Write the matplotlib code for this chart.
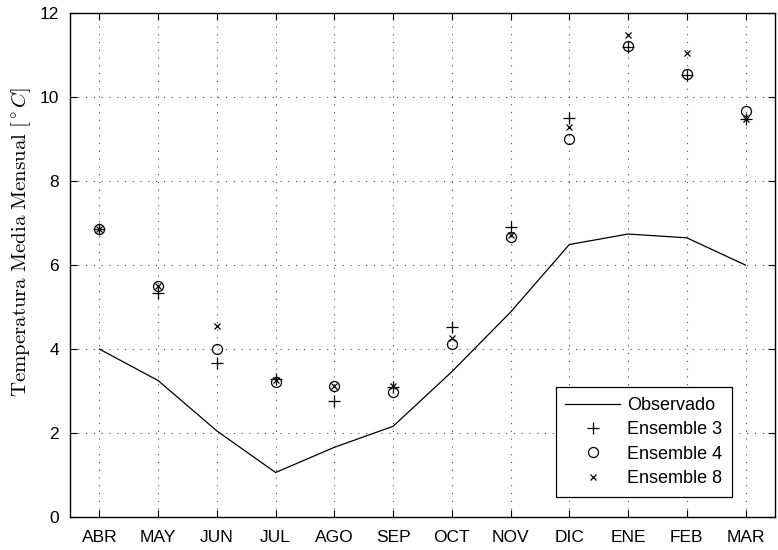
import matplotlib
matplotlib.use("Agg")
import matplotlib.pyplot as plt
import numpy as np

months = ["ABR", "MAY", "JUN", "JUL", "AGO", "SEP", "OCT", "NOV", "DIC", "ENE", "FEB", "MAR"]
observado = [4.0, 3.25, 2.05, 1.06, 1.66, 2.16, 3.46, 4.88, 6.49, 6.74, 6.65, 6.0]
ensemble3 = [6.86, 5.34, 3.67, 3.28, 2.76, 3.10, 4.52, 6.90, 9.50, 11.20, 10.52, 9.47]
ensemble4 = [6.86, 5.51, 4.00, 3.22, 3.11, 2.98, 4.12, 6.68, 9.00, 11.21, 10.56, 9.68]
ensemble8 = [6.86, 5.51, 4.55, 3.27, 3.11, 3.12, 4.27, 6.72, 9.30, 11.49, 11.05, 9.49]
yticks = [0, 2, 4, 6, 8, 10, 12]

plt.rcParams["font.family"] = ["Liberation Sans", "DejaVu Sans"]
plt.rcParams["mathtext.fontset"] = "cm"

fig = plt.figure(figsize=(7.78, 5.5), dpi=100)
ax = fig.add_axes([0.09, 0.06, 0.906, 0.916])

x = np.arange(1, len(months) + 1)
ax.plot(x, observado, color="black", lw=0.9, label="Observado")
ax.plot(x, ensemble3, ls="none", marker="+", ms=8, mew=0.9, color="black", label="Ensemble 3")
ax.plot(x, ensemble4, ls="none", marker="o", ms=7.2, mew=0.9, mfc="none", mec="black", label="Ensemble 4")
ax.plot(x, ensemble8, ls="none", marker="x", ms=4.8, mew=0.9, color="black", label="Ensemble 8")

ax.set_xlim(0.5, len(months) + 0.5)
ax.set_ylim(0, 12)
ax.set_xticks(x)
ax.set_xticklabels(months)
ax.set_yticks(yticks)
ax.tick_params(direction="in", top=True, right=True, labelsize=12.5, length=5, width=0.8)
ax.tick_params(axis="x", pad=9)
ax.tick_params(axis="y", pad=8)
ax.grid(True, ls=(0, (1, 6)), color="black", lw=0.8, alpha=0.7)
for s in ax.spines.values():
    s.set_linewidth(1.0)

ax.set_ylabel(r"$\mathrm{Temperatura\ Media\ Mensual}\ [^\circ C]$", fontsize=15)
ax.yaxis.set_label_coords(-0.052, 0.546)

leg = ax.legend(loc="lower right", bbox_to_anchor=(0.939, 0.04), fontsize=13,
                frameon=True, fancybox=False, edgecolor="black", framealpha=1,
                handlelength=3.0, handletextpad=0.4, borderpad=0.55, labelspacing=0.4,
                borderaxespad=0)
leg.get_frame().set_linewidth(0.9)

fig.savefig("out.png", dpi=100)
